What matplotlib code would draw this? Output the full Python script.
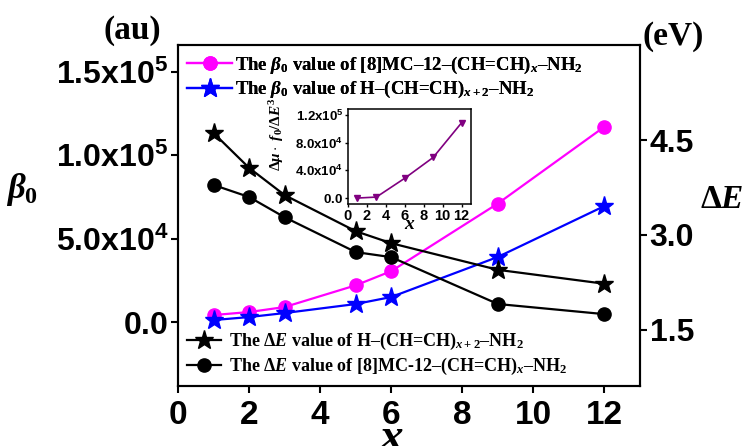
import matplotlib
matplotlib.use("Agg")
import matplotlib.pyplot as plt

plt.rcParams['font.family'] = ['Liberation Sans', 'DejaVu Sans']
plt.rcParams['font.weight'] = 'bold'
plt.rcParams['mathtext.fontset'] = 'custom'
plt.rcParams['mathtext.rm'] = 'Liberation Serif:bold'
plt.rcParams['mathtext.it'] = 'Liberation Serif:italic:bold'
plt.rcParams['mathtext.bf'] = 'Liberation Serif:bold'
plt.rcParams['mathtext.sf'] = 'Liberation Sans:bold'

# chain length x
x = [1, 2, 3, 5, 6, 9, 12]

# beta_0 (au)
beta_mc = [4.2e3, 6.0e3, 9.0e3, 2.2e4, 3.05e4, 7.1e4, 1.17e5]
beta_h = [1.2e3, 3.0e3, 5.4e3, 1.08e4, 1.5e4, 3.9e4, 6.95e4]

# Delta E (eV)
de_h = [4.61, 4.06, 3.63, 3.06, 2.87, 2.45, 2.23]
de_mc = [3.79, 3.60, 3.28, 2.73, 2.65, 1.91, 1.75]

# inset: delta mu * f0 / delta E^3
x_in = [1, 3, 6, 9, 12]
ratio_in = [0.0, 1.4e3, 2.86e4, 5.86e4, 1.086e5]

xticks = [0, 2, 4, 6, 8, 10, 12]
left_ticks = [0.0, 5.0e4, 1.0e5, 1.5e5]
left_labels = [r"$\mathsf{0.0}$", r"$\mathsf{5.0x10^4}$", r"$\mathsf{1.0x10^5}$", r"$\mathsf{1.5x10^5}$"]
right_ticks = [1.5, 3.0, 4.5]
right_labels = ["1.5", "3.0", "4.5"]
in_yticks = [0.0, 4.0e4, 8.0e4, 1.2e5]
in_ylabels = [r"$\mathsf{0.0}$", r"$\mathsf{4.0x10^4}$", r"$\mathsf{8.0x10^4}$", r"$\mathsf{1.2x10^5}$"]
in_xticks = [0, 2, 4, 6, 8, 10, 12]

lab_mc_beta = r"The $\beta_0$ value of [8]MC–12–(CH=CH)$_x$–NH$_2$"
lab_h_beta = r"The $\beta_0$ value of H–(CH=CH)$_{x+2}$–NH$_2$"
lab_h_de = r"The $\Delta E$ value of H–(CH=CH)$_{x+2}$–NH$_2$"
lab_mc_de = r"The $\Delta E$ value of [8]MC-12–(CH=CH)$_x$–NH$_2$"

LW = 1.6
SERIF = 'Liberation Serif'

fig = plt.figure(figsize=(7.49, 4.46), dpi=100)
ax = fig.add_axes([0.2377, 0.1345, 0.6168, 0.7645])
ax2 = ax.twinx()

l1, = ax.plot(x, beta_mc, color='#FF00FF', marker='o', markersize=9.5, lw=LW, label=lab_mc_beta)
l2, = ax.plot(x, beta_h, color='#0000FF', marker='*', markersize=14, lw=LW, label=lab_h_beta)
l3, = ax2.plot(x, de_h, color='black', marker='*', markersize=14, lw=LW, label=lab_h_de)
l4, = ax2.plot(x, de_mc, color='black', marker='o', markersize=9.5, lw=LW, label=lab_mc_de)

ax.set_xlim(0, 13)
ax.set_ylim(-3.83e4, 1.659e5)
ax2.set_ylim(0.615, 6.0)

ax.set_xticks(xticks)
ax.set_xticklabels([str(t) for t in xticks], fontsize=24, fontweight='bold')
ax.set_yticks(left_ticks)
ax.set_yticklabels(left_labels, fontsize=23)
ax2.set_yticks(right_ticks)
ax2.set_yticklabels(right_labels, fontsize=23, fontweight='bold')

for a in (ax, ax2):
    for s in a.spines.values():
        s.set_linewidth(1.5)
ax.tick_params(axis='both', direction='out', length=5, width=1.5, pad=2)
ax.tick_params(axis='x', pad=5)
ax2.tick_params(axis='y', direction='out', length=5, width=1.5, pad=2)

leg1 = ax.legend(handles=[l1, l2], loc='upper left', bbox_to_anchor=(0.0, 1.0),
                 frameon=False, borderaxespad=0.1, handlelength=2.4, handletextpad=0.15,
                 labelspacing=0.2, prop={'family': SERIF, 'weight': 'bold', 'size': 13.5})
ax.add_artist(leg1)
ax2.legend(handles=[l3, l4], loc='lower left', bbox_to_anchor=(0.0, 0.0),
           frameon=False, borderaxespad=0.1, handlelength=1.9, handletextpad=0.4,
           labelspacing=0.2, prop={'family': SERIF, 'weight': 'bold', 'size': 13})

# inset
ax_in = fig.add_axes([0.4646, 0.5426, 0.1642, 0.2130])
ax_in.plot(x_in, ratio_in, color='#800080', marker='v', markersize=5, lw=1.2)
ax_in.set_xlim(0, 13)
ax_in.set_ylim(-8.6e3, 1.286e5)
ax_in.set_xticks(in_xticks)
ax_in.set_xticklabels([str(t) for t in in_xticks], fontsize=10.5, fontweight='bold')
ax_in.set_yticks(in_yticks)
ax_in.set_yticklabels(in_ylabels, fontsize=9.5)
ax_in.tick_params(direction='out', length=2.5, width=1.0, pad=1)
for s in ax_in.spines.values():
    s.set_linewidth(1.1)
ax_in.set_ylabel(r"$\Delta\mu\cdot\ f_0/\Delta E^3$", fontsize=11)
ax_in.yaxis.set_label_coords(-0.5, 0.74)
ax_in.set_xlabel(r"$x$", fontsize=14, labelpad=-5)

# axis titles
fig.text(392 / 749, -0.01, r"$x$", fontsize=34, ha='center', va='baseline')
fig.text(22 / 749, 1 - 190 / 446, r"$\beta_0$", fontsize=25, ha='center', va='center')
fig.text(132 / 749, 1 - 31 / 446, "(au)", family=SERIF, fontweight='bold', fontsize=24,
         ha='center', va='center')
fig.text(673 / 749, 1 - 37 / 446, "(eV)", family=SERIF, fontweight='bold', fontsize=24,
         ha='center', va='center')
fig.text(700 / 749, 1 - 208 / 446, r"$\Delta E$", fontsize=24, ha='left', va='baseline')

fig.savefig("out.png", dpi=100)
